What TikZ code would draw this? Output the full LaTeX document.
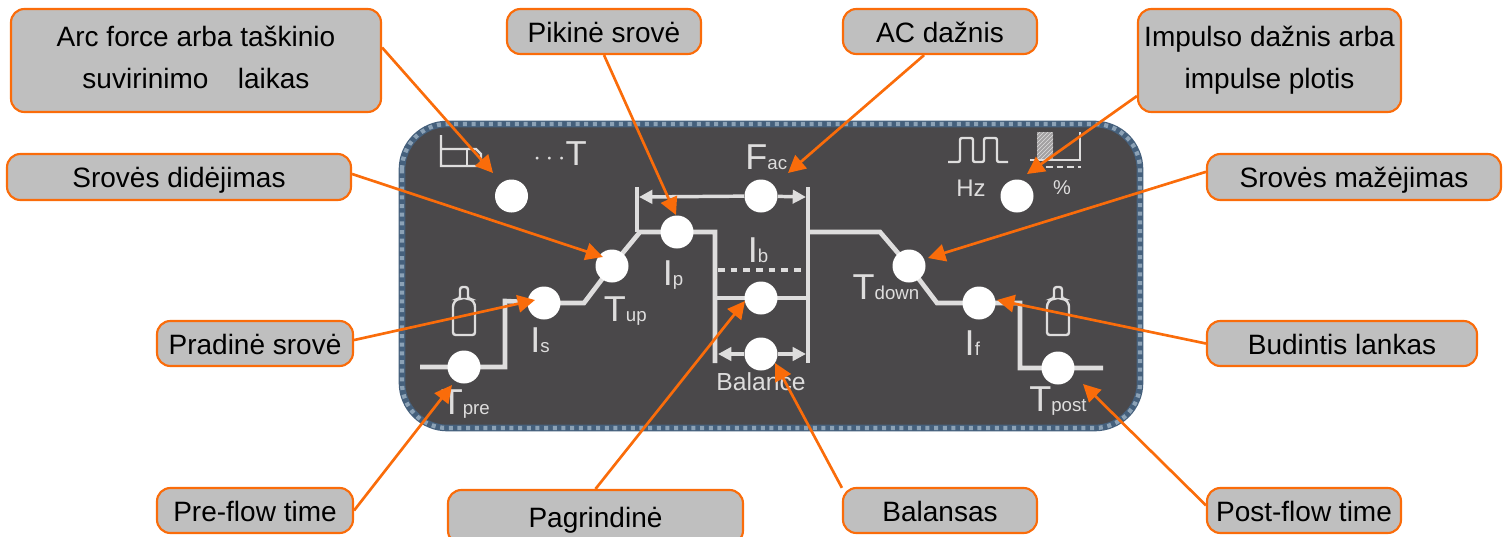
\documentclass[tikz,border=0pt]{standalone}
\usepackage{fontspec}
\setmainfont{Liberation Sans}
\usepackage{xcolor}
\usetikzlibrary{arrows.meta,positioning,calc,patterns}

\definecolor{panelgrey}{HTML}{4A484A}
\definecolor{panelrim}{HTML}{45607C}
\definecolor{paneldot}{HTML}{8CA2B6}
\definecolor{wavegrey}{HTML}{DEDDDD}
\definecolor{calloutgrey}{HTML}{BFBFBF}
\definecolor{calloutline}{HTML}{FA6C0A}

\newcommand{\bigsub}[2]{{\fontsize{27}{27}\selectfont #1}{\fontsize{14}{14}\selectfont #2}}
\newcommand{\topstrut}{\rule{0pt}{21.5pt}}
\newcommand{\botstrut}{\rule[-5.5pt]{0pt}{5.5pt}}
\def\px{0.75pt}

\begin{document}
\begin{tikzpicture}[
    x=0.75pt, y=-0.75pt,
    node distance=4pt and 4pt,
    callout/.style={rectangle, draw=calloutline, fill=calloutgrey, line width=1.6pt, rounded corners=10pt, align=center, text=black, inner sep=0pt, font=\fontsize{21}{31.5}\selectfont, execute at begin node=\topstrut, execute at end node=\botstrut},
    knob/.style={circle, fill=white, minimum size=33*\px, inner sep=0pt},
    wave/.style={draw=wavegrey, line width=3.5pt, line join=miter},
    thinwave/.style={draw=wavegrey, line width=3pt},
    tinywave/.style={draw=wavegrey, line width=1.8pt},
    panellabel/.style={text=wavegrey, inner sep=0pt},
    arrow/.style={-{Triangle[length=13pt,width=13pt]}, draw=calloutline, line width=2pt},
    handle/.style={-{Triangle[length=10pt,width=10pt]}, draw=wavegrey, line width=2.6pt}
]
\useasboundingbox (0,0) rectangle (1511,536);

% Panel
\draw[panelrim, fill=panelgrey, line width=5pt, rounded corners=34pt] (402,124) rectangle (1140,428);
\draw[paneldot, line width=3.2pt, dash pattern=on 3pt off 3.5pt, rounded corners=34pt] (402,124) rectangle (1140,428);

% Waveform
\coordinate (wstart) at (420,367);
\coordinate (wend) at (1103,368);
\path[wave] (wstart) -- (505,367) -- (505,301) -- (544,303) -- (584,303) -- (612,266) -- (640,232) -- (715,232) -- (715,363);
\path[wave] (715,298) -- (808,298);
\path[wave] (808,187) -- (808,363);
\path[wave] (808,232) -- (880,232) -- (909,266) -- (937,303) -- (1020,303) -- (1020,368) -- (wend);
\path[thinwave] (637,187) -- (637,232);
\path[wave, dash pattern=on 5pt off 4.5pt] (718,270) -- (806,270);

% Knobs
\node[knob] (ktime) at (511.5,196) {};
\node[knob] (kpre) at (464,367) {};
\node[knob] (kstart) at (544,303) {};
\node[knob] (kup) at (612,266) {};
\node[knob] (kpeak) at (677,232) {};
\node[knob] (kfreq) at (761,196) {};
\node[knob] (kbase) at (761,298) {};
\node[knob] (kbal) at (761,354) {};
\node[knob] (kdown) at (909,266) {};
\node[knob] (kfinal) at (979,303) {};
\node[knob] (kpost) at (1058,368) {};
\node[knob] (kpulse) at (1017,196) {};

% Arrows on the wave
\coordinate (fleft) at (639,197);
\coordinate (fright) at (806,197);
\coordinate (bleft) at (718,354);
\coordinate (bright) at (806,354);
\draw[handle] (kfreq) -- (fleft);
\draw[handle] (kfreq) -- (fright);
\draw[handle] (kbal) -- (bleft);
\draw[handle] (kbal) -- (bright);

% Gas bottles
\path[tinywave, rounded corners=2pt] (453,335) -- (453,304) -- (457,299) -- (460,299) -- (460,287) -- (468,287) -- (468,299) -- (471,299) -- (475,304) -- (475,335) -- cycle;
\path[tinywave, rounded corners=2pt] (1047,335) -- (1047,304) -- (1051,299) -- (1054,299) -- (1054,287) -- (1062,287) -- (1062,299) -- (1065,299) -- (1069,304) -- (1069,335) -- cycle;

% Arc force icon
\path[tinywave] (441,135) -- (441,166) -- (481,166) -- (481,154) -- (476,149) -- (441,149);
\path[tinywave] (467,149) -- (467,166);

% Pulse icons
\path[tinywave, rounded corners=1.5pt] (948,162) -- (960,162) -- (960,138) -- (973,138) -- (973,162) -- (984,162) -- (984,138) -- (997,138) -- (997,162) -- (1008,162);
\fill[wavegrey!60!panelgrey] (1037,132) rectangle (1053,160);
\fill[pattern=north east lines, pattern color=wavegrey] (1037,132) rectangle (1053,160);
\path[tinywave] (1030,160) -- (1080,160) -- (1080,132);
\path[tinywave, dash pattern=on 5pt off 3pt] (1046,167) -- (1081,167);

% Panel labels
\node[panellabel, font=\fontsize{22}{22}\selectfont] (ltime) at (560,154) {$\cdots$\fontsize{26}{26}\selectfont T};
\node[panellabel, above=7pt of kfreq, xshift=4pt] (lfreq) {\bigsub{F}{ac}};
\node[panellabel, below=4pt of kpre, xshift=1pt] (lpre) {\bigsub{T}{pre}};
\node[panellabel, below=6pt of kstart, xshift=-3pt] (ls) {\bigsub{I}{s}};
\node[panellabel, below=10pt of kup, xshift=10pt] (lup) {\bigsub{T}{up}};
\node[panellabel, below=9pt of kpeak, xshift=-3pt] (lp) {\bigsub{I}{p}};
\node[panellabel] (lb) at (758,250) {\bigsub{I}{b}};
\node[panellabel, font=\fontsize{18.5}{18.5}\selectfont] (lbal) at (761,382) {Balance};
\node[panellabel] (ldown) at (886,287) {\bigsub{T}{down}};
\node[panellabel, below=8pt of kfinal, xshift=-5pt] (lf) {\bigsub{I}{f}};
\node[panellabel, below=1pt of kpost] (lpost) {\bigsub{T}{post}};
\node[panellabel, font=\fontsize{18}{18}\selectfont] (lhz) at (971,188) {Hz};
\node[panellabel, font=\fontsize{15}{15}\selectfont] (lpct) at (1062,188) {\%};

% Callouts
\node[callout, minimum width=370*\px, minimum height=103*\px] (arcforce) at (196,60.5) {Arc force arba taškinio\\suvirinimo\hspace{1.05em}laikas};
\node[callout, minimum width=194*\px, minimum height=45*\px] (peak) at (604,31.5) {Pikinė srovė};
\node[callout, minimum width=194*\px, minimum height=45*\px] (acfreq) at (940,31.5) {AC dažnis};
\node[callout, minimum width=263*\px, minimum height=103*\px] (pulse) at (1269.5,60.5) {Impulso dažnis arba\\impulse plotis};
\node[callout, minimum width=344*\px, minimum height=46*\px] (rise) at (179,177) {Srovės didėjimas};
\node[callout, minimum width=294*\px, minimum height=46*\px] (fall) at (1354,177) {Srovės mažėjimas};
\node[callout, minimum width=196*\px, minimum height=45*\px] (start) at (255,343.5) {Pradinė srovė};
\node[callout, minimum width=270*\px, minimum height=45*\px] (final) at (1342,343.5) {Budintis lankas};
\node[callout, minimum width=196*\px, minimum height=45*\px] (preflow) at (255,510.5) {Pre-flow time};
\node[callout, minimum width=295*\px, minimum height=54*\px] (basecur) at (595.5,517) {Pagrindinė};
\node[callout, minimum width=194*\px, minimum height=45*\px] (balance) at (940,510.5) {Balansas};
\node[callout, minimum width=194*\px, minimum height=45*\px] (postflow) at (1304,510.5) {Post-flow time};

% Arrow tips
\coordinate (tarc) at (493,173);
\coordinate (tpeak) at (676,215);
\coordinate (tfreq) at (788,173);
\coordinate (tpulse) at (1027,174);
\coordinate (trise) at (603,257);
\coordinate (tfall) at (928,258);
\coordinate (tstart) at (535,300);
\coordinate (tfinal) at (997,300);
\coordinate (tpre) at (452,385);
\coordinate (tbase) at (745,301);
\coordinate (tbal) at (775,363);
\coordinate (tpost) at (1083,384);

% Arrows
\draw[arrow] (arcforce.4) -- (tarc);
\draw[arrow] (peak.south) -- (tpeak);
\draw[arrow] (acfreq.-124) -- (tfreq);
\draw[arrow] (pulse.195) -- (tpulse);
\draw[arrow] (rise.1) -- (trise);
\draw[arrow] (fall.178) -- (tfall);
\draw[arrow] (start.2) -- (tstart);
\draw[arrow] (final.west) -- (tfinal);
\draw[arrow] (preflow.east) -- (tpre);
\draw[arrow] (basecur.north) -- (tbase);
\draw[arrow] (balance.167) -- (tbal);
\draw[arrow] (postflow.177) -- (tpost);

\end{tikzpicture}
\end{document}
